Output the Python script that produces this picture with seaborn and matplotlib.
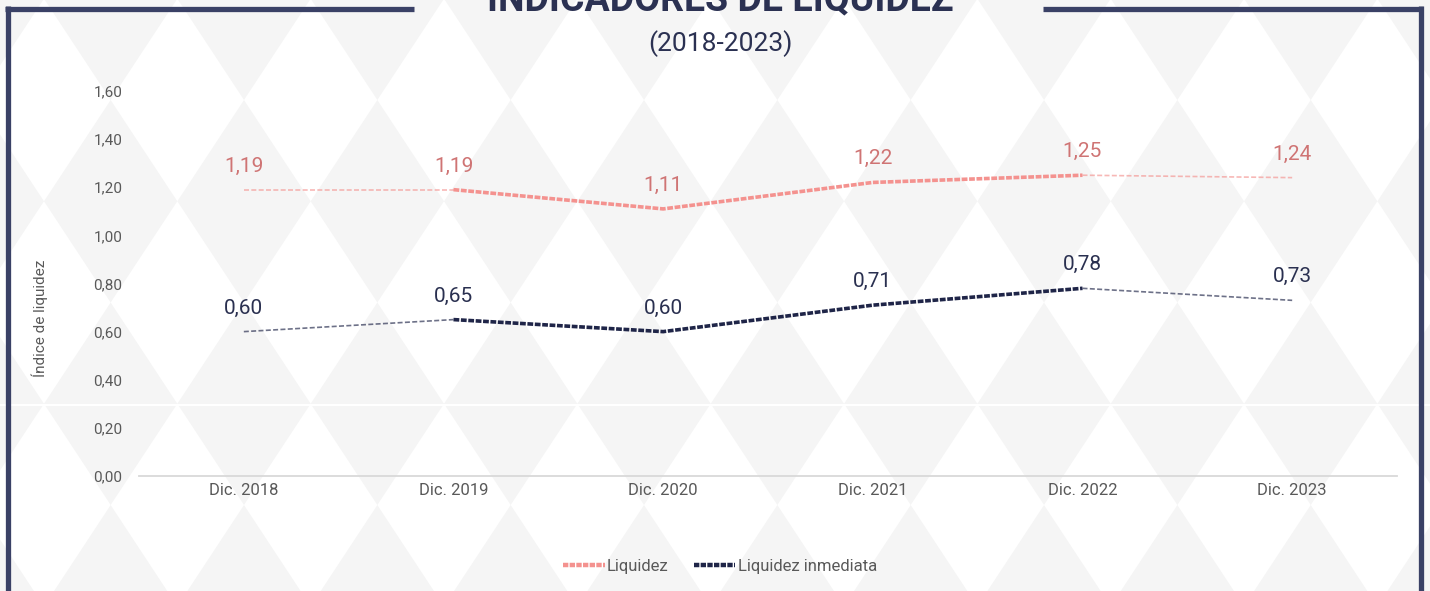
import numpy as np
import seaborn as sns
import matplotlib.pyplot as plt
from matplotlib.patches import Polygon, Rectangle
from matplotlib.lines import Line2D
from matplotlib.ticker import FuncFormatter

# Data
categories = ["Dic. 2018", "Dic. 2019", "Dic. 2020", "Dic. 2021", "Dic. 2022", "Dic. 2023"]
liquidez = [1.19, 1.19, 1.11, 1.22, 1.25, 1.24]
liquidez_inmediata = [0.60, 0.65, 0.60, 0.71, 0.78, 0.73]
y_ticks = [0.0, 0.2, 0.4, 0.6, 0.8, 1.0, 1.2, 1.4, 1.6]

# Colours
PINK = "#f4928f"
PINK_TEXT = "#cf7474"
NAVY = "#1f2548"
NAVY_TEXT = "#2a3050"
FRAME = "#3a4166"
GRAY_TEXT = "#595959"
BG_GRAY = "#f5f5f5"

sns.set_theme(style="white")
plt.rcParams['font.family'] = ['Roboto', 'DejaVu Sans']

W, H = 1430, 591
fig = plt.figure(figsize=(W / 100, H / 100), dpi=100)

# Background: diamond pattern, frame and titles (pixel coordinates)
bg = fig.add_axes([0, 0, 1, 1], zorder=0)
bg.set_xlim(0, W)
bg.set_ylim(H, 0)
bg.axis('off')
bg.add_patch(Rectangle((0, 0), W, H, color=BG_GRAY, zorder=0))
hw, hh = 66.67, 101.25
for j in range(-2, 8, 2):
	cy = 100 + hh * j
	for i in range(-5, 23, 2):
		cx = 244 + hw * i
		bg.add_patch(Polygon([(cx, cy - hh), (cx + hw, cy), (cx, cy + hh), (cx - hw, cy)],
			closed=True, facecolor="white", edgecolor="none", zorder=1))
bg.plot([0, W], [405, 405], color="white", lw=1.5, zorder=2)

frame_kw = dict(color=FRAME, lw=3.8, solid_capstyle='butt', zorder=3)
bg.plot([7.5, 7.5], [6, H + 5], **frame_kw)
bg.plot([1420.5, 1420.5], [6, H + 5], **frame_kw)
bg.plot([5, 414], [8.5, 8.5], **frame_kw)
bg.plot([1043, 1423], [8.5, 8.5], **frame_kw)

# title sits mostly above the picture, as in the original
bg.text(720, 10, "INDICADORES DE LIQUIDEZ", ha='center', va='baseline',
	fontsize=27, fontweight='bold', color="#2b3152", zorder=4)
bg.text(720, 44, "(2018-2023)", ha='center', va='center',
	fontsize=19, color="#2b3152", zorder=4)

# Main chart
ax = fig.add_axes([139 / W, (H - 476) / H, 1258 / W, 385 / H], zorder=2)
ax.set_facecolor('none')

x = np.arange(len(categories))
series = [
	("Liquidez", np.array(liquidez), PINK, PINK_TEXT),
	("Liquidez inmediata", np.array(liquidez_inmediata), NAVY, NAVY_TEXT),
]

for label, values, color, text_color in series:
	# thicker middle part, thin faded ends (like the original)
	sns.lineplot(x=x[1:5], y=values[1:5], color=color, lw=2.6,
		linestyle=(0, (1.6, 0.45)), ax=ax)
	for sl in (slice(0, 2), slice(4, 6)):
		sns.lineplot(x=x[sl], y=values[sl], color=color, lw=1.2, alpha=0.65,
			linestyle=(0, (3, 1.4)), ax=ax)
	for xi, v in zip(x, values):
		ax.annotate(f"{v:.2f}".replace('.', ','), (xi, v), xytext=(0, 17),
			textcoords='offset points', ha='center', va='center',
			fontsize=15, color=text_color)

ax.set_xlim(-0.5, len(categories) - 0.5)
ax.set_ylim(0, 1.6)
ax.set_xticks(x, categories)
ax.set_yticks(y_ticks)
ax.yaxis.set_major_formatter(FuncFormatter(lambda v, p: f"{v:.2f}".replace('.', ',')))
ax.tick_params(axis='x', length=0, pad=5, labelsize=12, labelcolor=GRAY_TEXT)
ax.tick_params(axis='y', length=0, pad=12, labelsize=11, labelcolor=GRAY_TEXT)
for side in ['top', 'right', 'left']:
	ax.spines[side].set_visible(False)
ax.spines['bottom'].set_color("#d9d9d9")
ax.spines['bottom'].set_linewidth(1.3)
ax.grid(False)

ax.set_ylabel("Índice de liquidez", fontsize=11, color=GRAY_TEXT)
ax.yaxis.set_label_coords(-0.072, 0.41)
if ax.get_legend() is not None:
	ax.get_legend().remove()

handles = [Line2D([], [], color=PINK, lw=3.2, linestyle=(0, (1.2, 0.3))),
	Line2D([], [], color=NAVY, lw=3.2, linestyle=(0, (1.2, 0.3)))]
fig.legend(handles, [s[0] for s in series], loc='center',
	bbox_to_anchor=(720 / W, (H - 566) / H), ncol=2, frameon=False,
	fontsize=12, handlelength=2.5, handletextpad=0.15, columnspacing=1.5,
	labelcolor=GRAY_TEXT)

fig.savefig("out.png", dpi=100)
